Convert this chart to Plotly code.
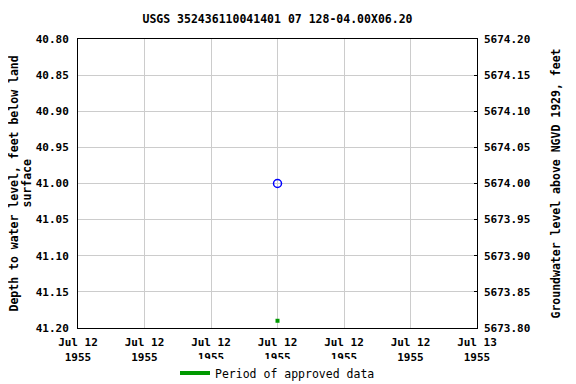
import plotly.graph_objects as go

title = "USGS 352436110041401 07 128-04.00X06.20"
left_title_lines = ["Depth to water level, feet below land", "surface"]
right_title = "Groundwater level above NGVD 1929, feet"
obs_time = ["1955-07-12 12:00"]
obs_depth = [41.00]
approved_time = ["1955-07-12 12:00"]
approved_depth = [41.19]
datum = 5715.00
x_start = "1955-07-12 00:00"
x_end = "1955-07-13 00:00"
x_ticks = ["1955-07-12 00:00", "1955-07-12 04:00", "1955-07-12 08:00", "1955-07-12 12:00",
           "1955-07-12 16:00", "1955-07-12 20:00", "1955-07-13 00:00"]
x_labels = ["Jul 12<br>1955"] * 6 + ["Jul 13<br>1955"]
y_ticks = [40.80, 40.85, 40.90, 40.95, 41.00, 41.05, 41.10, 41.15, 41.20]
y2_ticks = [datum - v for v in y_ticks]

font = "DejaVu Sans Mono"
W, H = 576, 384
ML, MT, PW, PH = 70, 31, 399, 289

fig = go.Figure()
fig.add_trace(go.Scatter(
    x=obs_time, y=obs_depth, mode="markers",
    marker=dict(symbol="circle-open", size=8, color="#0000ff", line=dict(width=1.5)),
    showlegend=False, hoverinfo="x+y"))
fig.add_trace(go.Scatter(
    x=approved_time, y=approved_depth, mode="markers",
    marker=dict(symbol="square", size=4, color="#009900"),
    showlegend=False))
fig.add_trace(go.Scatter(
    x=[None], y=[None], mode="lines", line=dict(color="#009900", width=4),
    name="Period of approved data", showlegend=True))
fig.add_trace(go.Scatter(
    x=obs_time, y=[datum - v for v in obs_depth], yaxis="y2", mode="markers",
    marker=dict(opacity=0), showlegend=False, hoverinfo="skip"))

# left axis title as two rotated lines
for i, (line, xpix) in enumerate(zip(left_title_lines, [5, 18])):
    fig.add_annotation(text="<b>" + line + "</b>", textangle=-90, showarrow=False,
                       xref="paper", yref="paper", x=(xpix - ML) / PW, y=0.5,
                       xanchor="center", yanchor="middle",
                       font=dict(family=font, size=11.5, color="black"))

fig.update_layout(
    width=W, height=H,
    margin=dict(l=ML, r=W - ML - PW, t=MT, b=H - MT - PH),
    paper_bgcolor="white", plot_bgcolor="white",
    font=dict(family=font, size=11, color="black"),
    title=dict(text="<b>" + title + "</b>", x=(ML + PW / 2) / W, xanchor="center",
               y=1 - 11 / H, yanchor="middle",
               font=dict(family=font, size=11.5)),
    xaxis=dict(range=[x_start, x_end], tickvals=x_ticks, ticktext=["<b>" + t + "</b>" for t in x_labels],
               showgrid=True, gridcolor="#cccccc", gridwidth=1, automargin=False,
               showline=True, linecolor="black", linewidth=1, mirror=True,
               ticks="outside", ticklen=4, tickcolor="rgba(0,0,0,0)", zeroline=False),
    yaxis=dict(range=[41.20, 40.80], tickvals=y_ticks, ticktext=["<b>%.2f</b>" % v for v in y_ticks],
               showgrid=True, gridcolor="#cccccc", gridwidth=1, automargin=False,
               showline=True, linecolor="black", linewidth=1, mirror=True,
               ticks="outside", ticklen=6, tickcolor="rgba(0,0,0,0)", zeroline=False),
    yaxis2=dict(range=[datum - 41.20, datum - 40.80], overlaying="y", side="right",
                tickvals=y2_ticks, ticktext=["<b>%.2f</b>" % v for v in y2_ticks],
                title=dict(text="<b>" + right_title + "</b>", standoff=22,
                           font=dict(size=11.5)),
                showgrid=False, ticks="inside", ticklen=3, tickcolor="black", zeroline=False,
                ticklabelstandoff=6,
                showline=False, automargin=False),
    legend=dict(orientation="h", x=0.5, xanchor="center",
                yref="container", y=1 - 365 / H, yanchor="middle",
                font=dict(family=font, size=11.5)),
)
fig.write_html("out.html")
